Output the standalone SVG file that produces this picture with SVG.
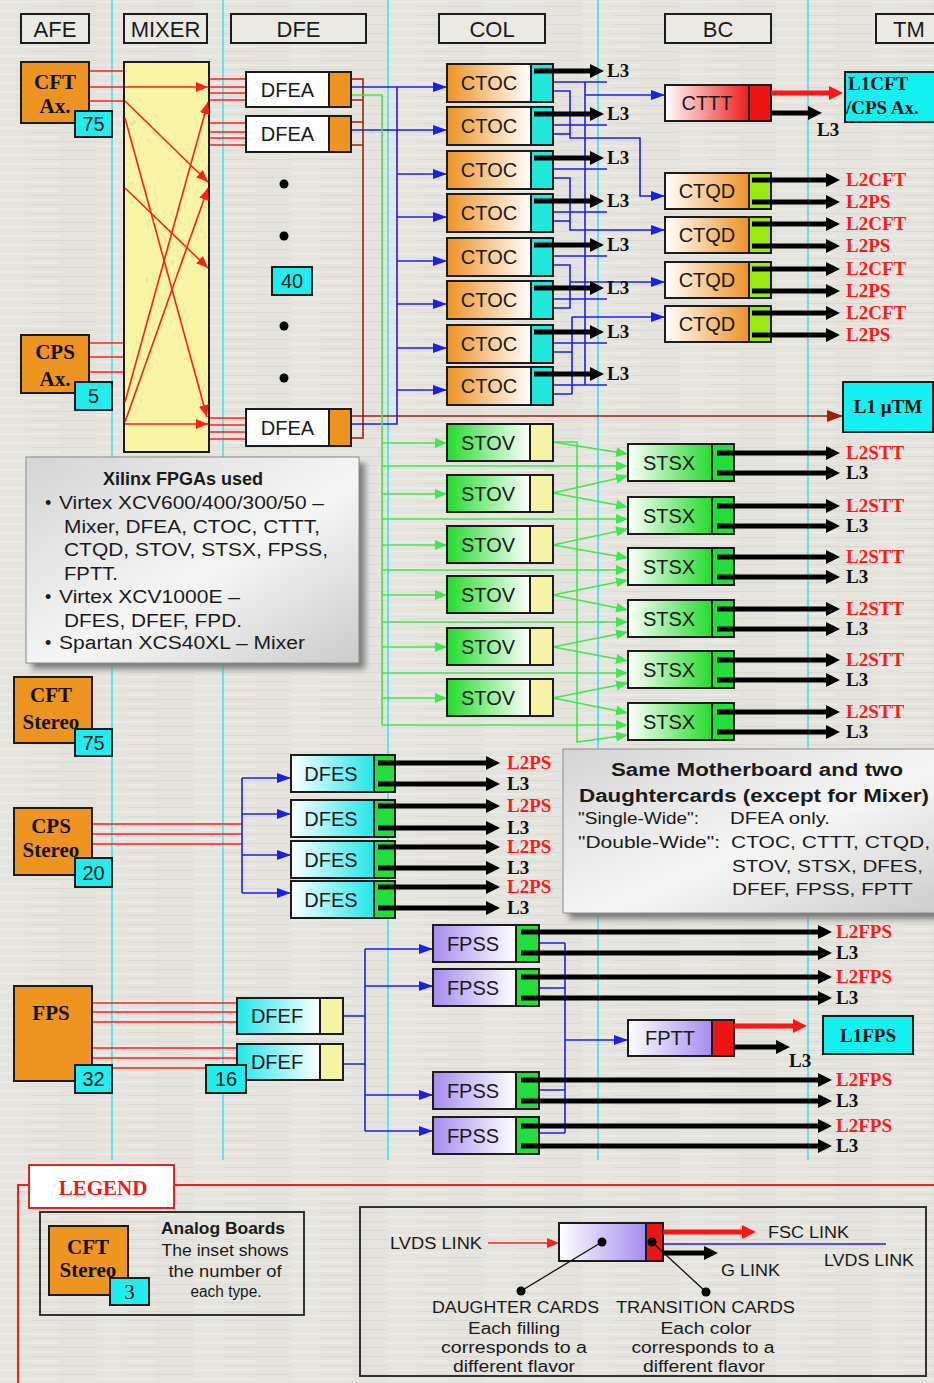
<svg xmlns="http://www.w3.org/2000/svg" width="934" height="1383" viewBox="0 0 934 1383">
<defs>
<pattern id="tex" width="97" height="9" patternUnits="userSpaceOnUse">
<rect width="97" height="9" fill="#e5e3dd"/>
<line x1="0" y1="2" x2="60" y2="2" stroke="#eeece7" stroke-width="1.5"/>
<line x1="30" y1="6.5" x2="97" y2="6.5" stroke="#dbd9d2" stroke-width="1"/>
</pattern>
<linearGradient id="gOrL" x1="0" x2="1"><stop offset="0" stop-color="#ee9224"/><stop offset="1" stop-color="#ffffff"/></linearGradient>
<linearGradient id="gOrR" x1="0" x2="1"><stop offset="0" stop-color="#ffffff"/><stop offset="1" stop-color="#ee9224"/></linearGradient>
<linearGradient id="gRdR" x1="0" x2="1"><stop offset="0" stop-color="#ffffff"/><stop offset="1" stop-color="#ee1c1c"/></linearGradient>
<linearGradient id="gGrL" x1="0" x2="1"><stop offset="0" stop-color="#22dc2a"/><stop offset="1" stop-color="#ffffff"/></linearGradient>
<linearGradient id="gGrR" x1="0" x2="1"><stop offset="0" stop-color="#ffffff"/><stop offset="1" stop-color="#22dc2a"/></linearGradient>
<linearGradient id="gCyR" x1="0" x2="1"><stop offset="0" stop-color="#ffffff"/><stop offset="1" stop-color="#22e6ea"/></linearGradient>
<linearGradient id="gCyL" x1="0" x2="1"><stop offset="0" stop-color="#22e6ea"/><stop offset="1" stop-color="#ffffff"/></linearGradient>
<linearGradient id="gPuL" x1="0" x2="1"><stop offset="0" stop-color="#a58cf0"/><stop offset="1" stop-color="#ffffff"/></linearGradient>
<linearGradient id="gPuR" x1="0" x2="1"><stop offset="0" stop-color="#ffffff"/><stop offset="1" stop-color="#a58cf0"/></linearGradient>
<linearGradient id="gInfo" x1="0" y1="0" x2="1" y2="1"><stop offset="0" stop-color="#d4d4d4"/><stop offset="0.55" stop-color="#f6f6f6"/><stop offset="1" stop-color="#cbcbcb"/></linearGradient>
<filter id="shd" x="-10%" y="-10%" width="130%" height="130%"><feGaussianBlur stdDeviation="3"/></filter>
<marker id="mB" viewBox="0 0 14 10" refX="14" refY="5" markerWidth="14" markerHeight="10" markerUnits="userSpaceOnUse" orient="auto"><path d="M0,0 L14,5 L0,10 z" fill="#1c1ef0"/></marker>
<marker id="mG" viewBox="0 0 12 10" refX="12" refY="5" markerWidth="12" markerHeight="10" markerUnits="userSpaceOnUse" orient="auto"><path d="M0,0 L12,5 L0,10 z" fill="#3ee84e"/></marker>
<marker id="mRs" viewBox="0 0 12 10" refX="12" refY="5" markerWidth="12" markerHeight="10" markerUnits="userSpaceOnUse" orient="auto"><path d="M0,0 L12,5 L0,10 z" fill="#ff1f1f"/></marker>
<marker id="mBr" viewBox="0 0 16 12" refX="16" refY="6" markerWidth="16" markerHeight="12" markerUnits="userSpaceOnUse" orient="auto"><path d="M0,0 L16,6 L0,12 z" fill="#a01e0c"/></marker>
<marker id="mK" viewBox="0 0 14 14" refX="4" refY="7" markerWidth="14" markerHeight="14" markerUnits="userSpaceOnUse" orient="auto"><path d="M0,0 L14,7 L0,14 z" fill="#000"/></marker>
<marker id="mR" viewBox="0 0 14 14" refX="4" refY="7" markerWidth="14" markerHeight="14" markerUnits="userSpaceOnUse" orient="auto"><path d="M0,0 L14,7 L0,14 z" fill="#ff1414"/></marker>
</defs>
<style>
.bx{fill:none;stroke:#1c1c1c;stroke-width:2}
.dv{stroke:#1c1c1c;stroke-width:2}
.hb{fill:#ebe9e4;stroke:#1c1c1c;stroke-width:2}
.lbl{font-family:"Liberation Sans",Arial,sans-serif;font-size:20px;fill:#1a1a1a;text-anchor:middle}
.hdr{font-family:"Liberation Sans",Arial,sans-serif;font-size:22px;fill:#1a1a1a;text-anchor:middle}
.ser{font-family:"Liberation Serif","Times New Roman",serif;font-weight:bold;font-size:21px;fill:#111;text-anchor:middle}
.out{font-family:"Liberation Serif","Times New Roman",serif;font-weight:bold;font-size:19px}
.r{fill:#ff1a1a}
.k{fill:#111}
.txt{font-family:"Liberation Sans",Arial,sans-serif;font-size:18px;fill:#1a1a1a}
.txs{font-family:"Liberation Sans",Arial,sans-serif;font-size:16px;fill:#1a1a1a}
.bl{stroke:#1c1ef0;stroke-width:1.6;fill:none}
.bla{stroke:#1c1ef0;stroke-width:1.6;fill:none;marker-end:url(#mB)}
.gr{stroke:#3ee84e;stroke-width:1.6;fill:none}
.gra{stroke:#3ee84e;stroke-width:1.6;fill:none;marker-end:url(#mG)}
.rd{stroke:#ff1f1f;stroke-width:1.6;fill:none}
.rda{stroke:#ff1f1f;stroke-width:1.6;fill:none;marker-end:url(#mRs)}
.br{stroke:#a01e0c;stroke-width:1.6;fill:none}
.ka{stroke:#000;stroke-width:5;fill:none;marker-end:url(#mK)}
.ra{stroke:#ff1414;stroke-width:5;fill:none;marker-end:url(#mR)}
.cy{stroke:#35e2f0;stroke-width:1.5}
.or{fill:#ee9420}
.cyf{fill:#20eeee}
</style>
<rect width="934" height="1383" fill="url(#tex)"/>

<g id="separators">
<line class="cy" x1="112" y1="0" x2="112" y2="1160"/>
<line class="cy" x1="223" y1="0" x2="223" y2="1160"/>
<line class="cy" x1="388" y1="0" x2="388" y2="1160"/>
<line class="cy" x1="598" y1="0" x2="598" y2="1160"/>
<line class="cy" x1="808" y1="0" x2="808" y2="1160"/>
</g>

<g id="headers">
<g id="hdr-afe"><rect class="hb" x="21" y="14" width="68" height="29"/><text class="hdr" x="55" y="37">AFE</text></g>
<g id="hdr-mixer"><rect class="hb" x="124" y="14" width="83" height="29"/><text class="hdr" x="165.5" y="37">MIXER</text></g>
<g id="hdr-dfe"><rect class="hb" x="231" y="14" width="135" height="29"/><text class="hdr" x="298.5" y="37">DFE</text></g>
<g id="hdr-col"><rect class="hb" x="439" y="14" width="106" height="29"/><text class="hdr" x="492" y="37">COL</text></g>
<g id="hdr-bc"><rect class="hb" x="665" y="14" width="106" height="29"/><text class="hdr" x="718" y="37">BC</text></g>
<g id="hdr-tm"><rect class="hb" x="876" y="14" width="70" height="29"/><text class="hdr" x="909" y="37">TM</text></g>
</g>

<g id="connectors">
<path class="rd" d="M89,71 H125 M89,87 H125 M89,101 H125 M89,343 H125 M89,357 H125 M89,372 H125"/>
<path class="rd" d="M209,79 H246 M209,87 H246 M209,93 H246 M209,100 H246 M209,123 H246 M209,132 H246 M209,138 H246 M209,145 H246 M209,418 H246 M209,425 H246 M209,432 H246 M209,439 H246"/>
<path class="br" d="M351,79 H363 V438 H351 M351,100 H363 M351,122 H363 M351,145 H363"/>
<path class="br" d="M351,416 H843" marker-end="url(#mBr)"/>
<path class="bl" d="M397,87 V424 H351"/>
<path class="bla" d="M351,87 H447"/>
<path class="bla" d="M351,130 H447"/>
<path class="bla" d="M397,174 H447"/>
<path class="bla" d="M397,217 H447"/>
<path class="bla" d="M397,261 H447"/>
<path class="bla" d="M397,304 H447"/>
<path class="bla" d="M397,348 H447"/>
<path class="bla" d="M397,390 H447"/>
<path class="bl" d="M585,82 V385 M553,82 H607 M553,125 H607 M553,169 H607 M553,212 H607 M553,256 H607 M553,299 H607 M553,343 H607 M553,385 H607"/>
<path class="bla" d="M585,95 H665"/>
<path class="bla" d="M553,91 H570 V138 H640 V196 H665"/>
<path class="bl" d="M553,134 H570"/>
<path class="bla" d="M553,178 H570 V230 H665"/>
<path class="bl" d="M553,221 H570"/>
<path class="bl" d="M553,265 H570 V308 H553"/>
<path class="bla" d="M570,282 H665"/>
<path class="bl" d="M553,352 H572 M553,394 H572 M572,317 V394"/>
<path class="bla" d="M572,317 H665"/>
<path class="gr" d="M351,95 H382 V725"/>
<path class="gra" d="M382,443 H447"/>
<path class="gra" d="M382,494 H447"/>
<path class="gra" d="M382,545 H447"/>
<path class="gra" d="M382,595 H447"/>
<path class="gra" d="M382,647 H447"/>
<path class="gra" d="M382,698 H447"/>
<path class="gra" d="M382,466 H628"/>
<path class="gra" d="M382,519 H628"/>
<path class="gra" d="M382,570 H628"/>
<path class="gra" d="M382,622 H628"/>
<path class="gra" d="M382,673 H628"/>
<path class="gra" d="M382,725 H628"/>
<path class="gra" d="M553,442 L628,454"/>
<path class="gra" d="M553,493 L628,507"/>
<path class="gra" d="M553,545 L628,558"/>
<path class="gra" d="M553,595 L628,610"/>
<path class="gra" d="M553,647 L628,661"/>
<path class="gra" d="M553,698 L628,713"/>
<path class="gra" d="M553,493 L628,476"/>
<path class="gra" d="M553,545 L628,529"/>
<path class="gra" d="M553,595 L628,580"/>
<path class="gra" d="M553,647 L628,632"/>
<path class="gra" d="M553,698 L628,683"/>
<path class="gra" d="M553,442 H577 V742 L628,735"/>
<path class="rd" d="M92,824 H242 M92,834 H242 M92,844 H242"/>
<path class="bl" d="M242,778 V893"/>
<path class="bla" d="M242,778 H291"/>
<path class="bla" d="M242,814 H291"/>
<path class="bla" d="M242,855 H291"/>
<path class="bla" d="M242,893 H291"/>
<path class="rd" d="M92,1003 H237 M92,1012 H237 M92,1022 H237 M92,1048 H237 M92,1058 H237 M112,1068 H206"/>
<path class="bl" d="M343,1016 H365 M343,1064 H365 M365,949 V1131"/>
<path class="bla" d="M365,949 H433"/>
<path class="bla" d="M365,986 H433"/>
<path class="bla" d="M365,1095 H433"/>
<path class="bla" d="M365,1131 H433"/>
<path class="bl" d="M539,943 H565 M539,988 H565 M539,1090 H565 M539,1133 H565 M565,943 V1133"/>
<path class="bla" d="M565,1040 H628"/>
</g>

<g id="afe-cft-ax"><rect x="21" y="62" width="68" height="61" class="or"/><rect class="bx" x="21" y="62" width="68" height="61"/><text class="ser" x="55" y="89">CFT</text><text class="ser" x="55" y="113">Ax.</text><rect x="75" y="111" width="37" height="26" class="cyf"/><rect class="bx" x="75" y="111" width="37" height="26"/><text class="lbl" x="93.5" y="131">75</text></g>
<g id="afe-cps-ax"><rect x="21" y="335" width="68" height="58" class="or"/><rect class="bx" x="21" y="335" width="68" height="58"/><text class="ser" x="55" y="359">CPS</text><text class="ser" x="55" y="386">Ax.</text><rect x="75" y="382" width="37" height="28" class="cyf"/><rect class="bx" x="75" y="382" width="37" height="28"/><text class="lbl" x="93.5" y="403">5</text></g>
<g id="afe-cft-stereo"><rect x="14" y="677" width="78" height="66" class="or"/><rect class="bx" x="14" y="677" width="78" height="66"/><text class="ser" x="51" y="702">CFT</text><text class="ser" x="51" y="729">Stereo</text><rect x="75" y="729" width="37" height="27" class="cyf"/><rect class="bx" x="75" y="729" width="37" height="27"/><text class="lbl" x="93.5" y="750">75</text></g>
<g id="afe-cps-stereo"><rect x="14" y="808" width="78" height="67" class="or"/><rect class="bx" x="14" y="808" width="78" height="67"/><text class="ser" x="51" y="833">CPS</text><text class="ser" x="51" y="857">Stereo</text><rect x="75" y="858" width="37" height="29" class="cyf"/><rect class="bx" x="75" y="858" width="37" height="29"/><text class="lbl" x="93.5" y="880">20</text></g>
<g id="afe-fps"><rect x="14" y="986" width="78" height="95" class="or"/><rect class="bx" x="14" y="986" width="78" height="95"/><text class="ser" x="51" y="1020">FPS</text><rect x="75" y="1065" width="37" height="28" class="cyf"/><rect class="bx" x="75" y="1065" width="37" height="28"/><text class="lbl" x="93.5" y="1086">32</text></g>

<g id="mixer"><rect x="124" y="62" width="85" height="390" fill="#f8f4a2"/><rect class="bx" x="124" y="62" width="85" height="390"/></g>
<g id="connectors-mixer">
<path class="rda" d="M125,87 H208"/>
<path class="rda" d="M125,101 L208,182"/>
<path class="rda" d="M125,118 L207,417"/>
<path class="rda" d="M125,188 L208,268"/>
<path class="rda" d="M125,402 L208,102"/>
<path class="rda" d="M125,422 L208,188"/>
<path class="rda" d="M125,424 H208"/>
</g>

<g id="dfea1"><rect x="246" y="72" width="83" height="35" fill="#fff"/><rect x="329" y="72" width="22" height="35" class="or"/><rect class="bx" x="246" y="72" width="105" height="35"/><line class="dv" x1="329" y1="72" x2="329" y2="107"/><text class="lbl" x="287.5" y="97">DFEA</text></g>
<g id="dfea2"><rect x="246" y="116" width="83" height="36" fill="#fff"/><rect x="329" y="116" width="22" height="36" class="or"/><rect class="bx" x="246" y="116" width="105" height="36"/><line class="dv" x1="329" y1="116" x2="329" y2="152"/><text class="lbl" x="287.5" y="141">DFEA</text></g>
<g id="dfea40"><rect x="246" y="409" width="83" height="37" fill="#fff"/><rect x="329" y="409" width="22" height="37" class="or"/><rect class="bx" x="246" y="409" width="105" height="37"/><line class="dv" x1="329" y1="409" x2="329" y2="446"/><text class="lbl" x="287.5" y="435">DFEA</text></g>
<g id="dfea-count"><circle cx="284" cy="184" r="4.5" fill="#000"/><circle cx="284" cy="236" r="4.5" fill="#000"/><circle cx="284" cy="326" r="4.5" fill="#000"/><circle cx="284" cy="378" r="4.5" fill="#000"/><rect x="272" y="267" width="40" height="28" class="cyf"/><rect class="bx" x="272" y="267" width="40" height="28"/><text class="lbl" x="292" y="288">40</text></g>

<g id="ctoc1"><rect x="447" y="64" width="84" height="38" fill="url(#gOrL)"/><rect x="531" y="64" width="22" height="38" fill="#1fe8da"/><rect class="bx" x="447" y="64" width="106" height="38"/><line class="dv" x1="531" y1="64" x2="531" y2="102"/><text class="lbl" x="489" y="90">CTOC</text><text class="out k" x="607" y="77">L3</text></g>
<g id="ctoc2"><rect x="447" y="107" width="84" height="38" fill="url(#gOrL)"/><rect x="531" y="107" width="22" height="38" fill="#1fe8da"/><rect class="bx" x="447" y="107" width="106" height="38"/><line class="dv" x1="531" y1="107" x2="531" y2="145"/><text class="lbl" x="489" y="133">CTOC</text><text class="out k" x="607" y="120">L3</text></g>
<g id="ctoc3"><rect x="447" y="151" width="84" height="38" fill="url(#gOrL)"/><rect x="531" y="151" width="22" height="38" fill="#1fe8da"/><rect class="bx" x="447" y="151" width="106" height="38"/><line class="dv" x1="531" y1="151" x2="531" y2="189"/><text class="lbl" x="489" y="177">CTOC</text><text class="out k" x="607" y="164">L3</text></g>
<g id="ctoc4"><rect x="447" y="194" width="84" height="38" fill="url(#gOrL)"/><rect x="531" y="194" width="22" height="38" fill="#1fe8da"/><rect class="bx" x="447" y="194" width="106" height="38"/><line class="dv" x1="531" y1="194" x2="531" y2="232"/><text class="lbl" x="489" y="220">CTOC</text><text class="out k" x="607" y="207">L3</text></g>
<g id="ctoc5"><rect x="447" y="238" width="84" height="38" fill="url(#gOrL)"/><rect x="531" y="238" width="22" height="38" fill="#1fe8da"/><rect class="bx" x="447" y="238" width="106" height="38"/><line class="dv" x1="531" y1="238" x2="531" y2="276"/><text class="lbl" x="489" y="264">CTOC</text><text class="out k" x="607" y="251">L3</text></g>
<g id="ctoc6"><rect x="447" y="281" width="84" height="38" fill="url(#gOrL)"/><rect x="531" y="281" width="22" height="38" fill="#1fe8da"/><rect class="bx" x="447" y="281" width="106" height="38"/><line class="dv" x1="531" y1="281" x2="531" y2="319"/><text class="lbl" x="489" y="307">CTOC</text><text class="out k" x="607" y="294">L3</text></g>
<g id="ctoc7"><rect x="447" y="325" width="84" height="38" fill="url(#gOrL)"/><rect x="531" y="325" width="22" height="38" fill="#1fe8da"/><rect class="bx" x="447" y="325" width="106" height="38"/><line class="dv" x1="531" y1="325" x2="531" y2="363"/><text class="lbl" x="489" y="351">CTOC</text><text class="out k" x="607" y="338">L3</text></g>
<g id="ctoc8"><rect x="447" y="367" width="84" height="38" fill="url(#gOrL)"/><rect x="531" y="367" width="22" height="38" fill="#1fe8da"/><rect class="bx" x="447" y="367" width="106" height="38"/><line class="dv" x1="531" y1="367" x2="531" y2="405"/><text class="lbl" x="489" y="393">CTOC</text><text class="out k" x="607" y="380">L3</text></g>

<g id="cttt"><rect x="665" y="85" width="84" height="36" fill="url(#gRdR)"/><rect x="749" y="85" width="22" height="36" fill="#ee1414"/><rect class="bx" x="665" y="85" width="106" height="36"/><line class="dv" x1="749" y1="85" x2="749" y2="121"/><text class="lbl" x="707" y="110">CTTT</text><text class="out k" x="817" y="136">L3</text></g>
<g id="ctqd1"><rect x="665" y="173" width="84" height="36" fill="url(#gOrR)"/><rect x="749" y="173" width="22" height="36" fill="#9aea12"/><rect class="bx" x="665" y="173" width="106" height="36"/><line class="dv" x1="749" y1="173" x2="749" y2="209"/><text class="lbl" x="707" y="198">CTQD</text><text class="out r" x="846" y="186">L2CFT</text><text class="out r" x="846" y="208">L2PS</text></g>
<g id="ctqd2"><rect x="665" y="217" width="84" height="36" fill="url(#gOrR)"/><rect x="749" y="217" width="22" height="36" fill="#9aea12"/><rect class="bx" x="665" y="217" width="106" height="36"/><line class="dv" x1="749" y1="217" x2="749" y2="253"/><text class="lbl" x="707" y="242">CTQD</text><text class="out r" x="846" y="230">L2CFT</text><text class="out r" x="846" y="252">L2PS</text></g>
<g id="ctqd3"><rect x="665" y="262" width="84" height="36" fill="url(#gOrR)"/><rect x="749" y="262" width="22" height="36" fill="#9aea12"/><rect class="bx" x="665" y="262" width="106" height="36"/><line class="dv" x1="749" y1="262" x2="749" y2="298"/><text class="lbl" x="707" y="287">CTQD</text><text class="out r" x="846" y="275">L2CFT</text><text class="out r" x="846" y="297">L2PS</text></g>
<g id="ctqd4"><rect x="665" y="306" width="84" height="36" fill="url(#gOrR)"/><rect x="749" y="306" width="22" height="36" fill="#9aea12"/><rect class="bx" x="665" y="306" width="106" height="36"/><line class="dv" x1="749" y1="306" x2="749" y2="342"/><text class="lbl" x="707" y="331">CTQD</text><text class="out r" x="846" y="319">L2CFT</text><text class="out r" x="846" y="341">L2PS</text></g>
<g id="tm-l1cft"><rect x="845" y="72" width="95" height="50" fill="#14f0f0"/><rect class="bx" x="845" y="72" width="95" height="50"/><text class="out k" x="848" y="90">L1CFT</text><text class="out k" x="846" y="114">/CPS Ax.</text></g>
<g id="tm-l1mutm"><rect x="843" y="382" width="90" height="50" fill="#14f0f0"/><rect class="bx" x="843" y="382" width="90" height="50"/><text class="out k" x="888" y="413" text-anchor="middle">L1 µTM</text></g>

<g id="stov1"><rect x="447" y="424" width="83" height="37" fill="url(#gGrL)"/><rect x="530" y="424" width="23" height="37" fill="#f6f4a2"/><rect class="bx" x="447" y="424" width="106" height="37"/><line class="dv" x1="530" y1="424" x2="530" y2="461"/><text class="lbl" x="488" y="450">STOV</text></g>
<g id="stov2"><rect x="447" y="475" width="83" height="37" fill="url(#gGrL)"/><rect x="530" y="475" width="23" height="37" fill="#f6f4a2"/><rect class="bx" x="447" y="475" width="106" height="37"/><line class="dv" x1="530" y1="475" x2="530" y2="512"/><text class="lbl" x="488" y="501">STOV</text></g>
<g id="stov3"><rect x="447" y="526" width="83" height="37" fill="url(#gGrL)"/><rect x="530" y="526" width="23" height="37" fill="#f6f4a2"/><rect class="bx" x="447" y="526" width="106" height="37"/><line class="dv" x1="530" y1="526" x2="530" y2="563"/><text class="lbl" x="488" y="552">STOV</text></g>
<g id="stov4"><rect x="447" y="576" width="83" height="37" fill="url(#gGrL)"/><rect x="530" y="576" width="23" height="37" fill="#f6f4a2"/><rect class="bx" x="447" y="576" width="106" height="37"/><line class="dv" x1="530" y1="576" x2="530" y2="613"/><text class="lbl" x="488" y="602">STOV</text></g>
<g id="stov5"><rect x="447" y="628" width="83" height="37" fill="url(#gGrL)"/><rect x="530" y="628" width="23" height="37" fill="#f6f4a2"/><rect class="bx" x="447" y="628" width="106" height="37"/><line class="dv" x1="530" y1="628" x2="530" y2="665"/><text class="lbl" x="488" y="654">STOV</text></g>
<g id="stov6"><rect x="447" y="679" width="83" height="37" fill="url(#gGrL)"/><rect x="530" y="679" width="23" height="37" fill="#f6f4a2"/><rect class="bx" x="447" y="679" width="106" height="37"/><line class="dv" x1="530" y1="679" x2="530" y2="716"/><text class="lbl" x="488" y="705">STOV</text></g>

<g id="stsx1"><rect x="628" y="444" width="84" height="37" fill="url(#gGrR)"/><rect x="712" y="444" width="22" height="37" fill="#22dd3a"/><rect class="bx" x="628" y="444" width="106" height="37"/><line class="dv" x1="712" y1="444" x2="712" y2="481"/><text class="lbl" x="669" y="470">STSX</text><text class="out r" x="846" y="459">L2STT</text><text class="out k" x="846" y="479">L3</text></g>
<g id="stsx2"><rect x="628" y="497" width="84" height="37" fill="url(#gGrR)"/><rect x="712" y="497" width="22" height="37" fill="#22dd3a"/><rect class="bx" x="628" y="497" width="106" height="37"/><line class="dv" x1="712" y1="497" x2="712" y2="534"/><text class="lbl" x="669" y="523">STSX</text><text class="out r" x="846" y="512">L2STT</text><text class="out k" x="846" y="532">L3</text></g>
<g id="stsx3"><rect x="628" y="548" width="84" height="37" fill="url(#gGrR)"/><rect x="712" y="548" width="22" height="37" fill="#22dd3a"/><rect class="bx" x="628" y="548" width="106" height="37"/><line class="dv" x1="712" y1="548" x2="712" y2="585"/><text class="lbl" x="669" y="574">STSX</text><text class="out r" x="846" y="563">L2STT</text><text class="out k" x="846" y="583">L3</text></g>
<g id="stsx4"><rect x="628" y="600" width="84" height="37" fill="url(#gGrR)"/><rect x="712" y="600" width="22" height="37" fill="#22dd3a"/><rect class="bx" x="628" y="600" width="106" height="37"/><line class="dv" x1="712" y1="600" x2="712" y2="637"/><text class="lbl" x="669" y="626">STSX</text><text class="out r" x="846" y="615">L2STT</text><text class="out k" x="846" y="635">L3</text></g>
<g id="stsx5"><rect x="628" y="651" width="84" height="37" fill="url(#gGrR)"/><rect x="712" y="651" width="22" height="37" fill="#22dd3a"/><rect class="bx" x="628" y="651" width="106" height="37"/><line class="dv" x1="712" y1="651" x2="712" y2="688"/><text class="lbl" x="669" y="677">STSX</text><text class="out r" x="846" y="666">L2STT</text><text class="out k" x="846" y="686">L3</text></g>
<g id="stsx6"><rect x="628" y="703" width="84" height="37" fill="url(#gGrR)"/><rect x="712" y="703" width="22" height="37" fill="#22dd3a"/><rect class="bx" x="628" y="703" width="106" height="37"/><line class="dv" x1="712" y1="703" x2="712" y2="740"/><text class="lbl" x="669" y="729">STSX</text><text class="out r" x="846" y="718">L2STT</text><text class="out k" x="846" y="738">L3</text></g>

<g id="note-xilinx">
<rect x="32" y="463" width="333" height="206" fill="#7a7a7a" filter="url(#shd)"/>
<rect x="26" y="457" width="333" height="206" fill="url(#gInfo)" stroke="#8a8a8a" stroke-width="1"/>
<text class="txt" x="183" y="485" text-anchor="middle" font-weight="bold" font-size="19">Xilinx FPGAs used</text>
<text class="txt" x="45" y="509">•</text><text class="txt" x="59" y="509" textLength="265" lengthAdjust="spacingAndGlyphs">Virtex XCV600/400/300/50 –</text>
<text class="txt" x="64" y="533" textLength="256" lengthAdjust="spacingAndGlyphs">Mixer, DFEA, CTOC, CTTT,</text>
<text class="txt" x="64" y="556" textLength="264" lengthAdjust="spacingAndGlyphs">CTQD, STOV, STSX, FPSS,</text>
<text class="txt" x="64" y="580" textLength="54" lengthAdjust="spacingAndGlyphs">FPTT.</text>
<text class="txt" x="45" y="603">•</text><text class="txt" x="59" y="603" textLength="181" lengthAdjust="spacingAndGlyphs">Virtex XCV1000E –</text>
<text class="txt" x="64" y="627" textLength="178" lengthAdjust="spacingAndGlyphs">DFES, DFEF, FPD.</text>
<text class="txt" x="45" y="649">•</text><text class="txt" x="59" y="649" textLength="246" lengthAdjust="spacingAndGlyphs">Spartan XCS40XL – Mixer</text>
</g>

<g id="dfes1"><rect x="291" y="755" width="83" height="37" fill="url(#gCyR)"/><rect x="374" y="755" width="21" height="37" fill="#22dd3a"/><rect class="bx" x="291" y="755" width="104" height="37"/><line class="dv" x1="374" y1="755" x2="374" y2="792"/><text class="lbl" x="331" y="781">DFES</text><text class="out r" x="507" y="769">L2PS</text><text class="out k" x="507" y="790">L3</text></g>
<g id="dfes2"><rect x="291" y="800" width="83" height="37" fill="url(#gCyR)"/><rect x="374" y="800" width="21" height="37" fill="#22dd3a"/><rect class="bx" x="291" y="800" width="104" height="37"/><line class="dv" x1="374" y1="800" x2="374" y2="837"/><text class="lbl" x="331" y="826">DFES</text><text class="out r" x="507" y="812">L2PS</text><text class="out k" x="507" y="834">L3</text></g>
<g id="dfes3"><rect x="291" y="841" width="83" height="37" fill="url(#gCyR)"/><rect x="374" y="841" width="21" height="37" fill="#22dd3a"/><rect class="bx" x="291" y="841" width="104" height="37"/><line class="dv" x1="374" y1="841" x2="374" y2="878"/><text class="lbl" x="331" y="867">DFES</text><text class="out r" x="507" y="853">L2PS</text><text class="out k" x="507" y="874">L3</text></g>
<g id="dfes4"><rect x="291" y="881" width="83" height="37" fill="url(#gCyR)"/><rect x="374" y="881" width="21" height="37" fill="#22dd3a"/><rect class="bx" x="291" y="881" width="104" height="37"/><line class="dv" x1="374" y1="881" x2="374" y2="918"/><text class="lbl" x="331" y="907">DFES</text><text class="out r" x="507" y="893">L2PS</text><text class="out k" x="507" y="914">L3</text></g>

<g id="note-motherboard">
<rect x="569" y="755" width="380" height="164" fill="#7a7a7a" filter="url(#shd)"/>
<rect x="563" y="749" width="380" height="164" fill="url(#gInfo)" stroke="#8a8a8a" stroke-width="1"/>
<text class="txt" x="611" y="776" font-weight="bold" textLength="292" lengthAdjust="spacingAndGlyphs">Same Motherboard and two</text>
<text class="txt" x="579" y="802" font-weight="bold" textLength="350" lengthAdjust="spacingAndGlyphs">Daughtercards (except for Mixer)</text>
<text class="txs" x="578" y="824" textLength="121" lengthAdjust="spacingAndGlyphs">"Single-Wide":</text>
<text class="txs" x="730" y="824" textLength="100" lengthAdjust="spacingAndGlyphs">DFEA only.</text>
<text class="txs" x="578" y="848" textLength="142" lengthAdjust="spacingAndGlyphs">"Double-Wide":</text>
<text class="txs" x="731" y="848" textLength="199" lengthAdjust="spacingAndGlyphs">CTOC, CTTT, CTQD,</text>
<text class="txs" x="732" y="872" textLength="191" lengthAdjust="spacingAndGlyphs">STOV, STSX, DFES,</text>
<text class="txs" x="732" y="895" textLength="181" lengthAdjust="spacingAndGlyphs">DFEF, FPSS, FPTT</text>
</g>

<g id="dfef1"><rect x="237" y="998" width="83" height="36" fill="url(#gCyL)"/><rect x="320" y="998" width="23" height="36" fill="#f6f4a2"/><rect class="bx" x="237" y="998" width="106" height="36"/><line class="dv" x1="320" y1="998" x2="320" y2="1034"/><text class="lbl" x="277" y="1023">DFEF</text></g>
<g id="dfef2"><rect x="237" y="1044" width="83" height="36" fill="url(#gCyL)"/><rect x="320" y="1044" width="23" height="36" fill="#f6f4a2"/><rect class="bx" x="237" y="1044" width="106" height="36"/><line class="dv" x1="320" y1="1044" x2="320" y2="1080"/><text class="lbl" x="277" y="1069">DFEF</text><rect x="206" y="1065" width="40" height="28" class="cyf"/><rect class="bx" x="206" y="1065" width="40" height="28"/><text class="lbl" x="226" y="1086">16</text></g>

<g id="fpss1"><rect x="433" y="925" width="83" height="37" fill="url(#gPuL)"/><rect x="516" y="925" width="23" height="37" fill="#22dd3a"/><rect class="bx" x="433" y="925" width="106" height="37"/><line class="dv" x1="516" y1="925" x2="516" y2="962"/><text class="lbl" x="473" y="951">FPSS</text><text class="out r" x="836" y="938">L2FPS</text><text class="out k" x="836" y="959">L3</text></g>
<g id="fpss2"><rect x="433" y="969" width="83" height="37" fill="url(#gPuL)"/><rect x="516" y="969" width="23" height="37" fill="#22dd3a"/><rect class="bx" x="433" y="969" width="106" height="37"/><line class="dv" x1="516" y1="969" x2="516" y2="1006"/><text class="lbl" x="473" y="995">FPSS</text><text class="out r" x="836" y="983">L2FPS</text><text class="out k" x="836" y="1004">L3</text></g>
<g id="fpss3"><rect x="433" y="1072" width="83" height="37" fill="url(#gPuL)"/><rect x="516" y="1072" width="23" height="37" fill="#22dd3a"/><rect class="bx" x="433" y="1072" width="106" height="37"/><line class="dv" x1="516" y1="1072" x2="516" y2="1109"/><text class="lbl" x="473" y="1098">FPSS</text><text class="out r" x="836" y="1086">L2FPS</text><text class="out k" x="836" y="1107">L3</text></g>
<g id="fpss4"><rect x="433" y="1117" width="83" height="37" fill="url(#gPuL)"/><rect x="516" y="1117" width="23" height="37" fill="#22dd3a"/><rect class="bx" x="433" y="1117" width="106" height="37"/><line class="dv" x1="516" y1="1117" x2="516" y2="1154"/><text class="lbl" x="473" y="1143">FPSS</text><text class="out r" x="836" y="1132">L2FPS</text><text class="out k" x="836" y="1152">L3</text></g>
<g id="fptt"><rect x="628" y="1020" width="84" height="36" fill="url(#gPuR)"/><rect x="712" y="1020" width="22" height="36" fill="#ee1414"/><rect class="bx" x="628" y="1020" width="106" height="36"/><line class="dv" x1="712" y1="1020" x2="712" y2="1056"/><text class="lbl" x="670" y="1045">FPTT</text><text class="out k" x="789" y="1067">L3</text></g>
<g id="tm-l1fps"><rect x="823" y="1016" width="90" height="38" fill="#14f0f0"/><rect class="bx" x="823" y="1016" width="90" height="38"/><text class="out k" x="868" y="1042" text-anchor="middle">L1FPS</text></g>

<g id="connectors-outputs">
<path class="ka" d="M534,71 H594"/><path class="ka" d="M534,114 H594"/><path class="ka" d="M534,158 H594"/><path class="ka" d="M534,201 H594"/><path class="ka" d="M534,245 H594"/><path class="ka" d="M534,288 H594"/><path class="ka" d="M534,332 H594"/><path class="ka" d="M534,374 H594"/>
<path class="ra" d="M771,93 H833"/><path class="ka" d="M771,113 H812"/>
<path class="ka" d="M752,180 H830"/><path class="ka" d="M752,202 H830"/><path class="ka" d="M752,224 H830"/><path class="ka" d="M752,246 H830"/><path class="ka" d="M752,269 H830"/><path class="ka" d="M752,291 H830"/><path class="ka" d="M752,313 H830"/><path class="ka" d="M752,335 H830"/>
<path class="ka" d="M717,453 H830"/><path class="ka" d="M717,473 H830"/><path class="ka" d="M717,506 H830"/><path class="ka" d="M717,526 H830"/><path class="ka" d="M717,557 H830"/><path class="ka" d="M717,577 H830"/><path class="ka" d="M717,609 H830"/><path class="ka" d="M717,629 H830"/><path class="ka" d="M717,660 H830"/><path class="ka" d="M717,680 H830"/><path class="ka" d="M717,712 H830"/><path class="ka" d="M717,732 H830"/>
<path class="ka" d="M378,763 H490"/><path class="ka" d="M378,784 H490"/><path class="ka" d="M378,806 H490"/><path class="ka" d="M378,828 H490"/><path class="ka" d="M378,847 H490"/><path class="ka" d="M378,868 H490"/><path class="ka" d="M378,887 H490"/><path class="ka" d="M378,908 H490"/>
<path class="ka" d="M521,932 H822"/><path class="ka" d="M521,953 H822"/><path class="ka" d="M521,977 H822"/><path class="ka" d="M521,998 H822"/><path class="ka" d="M521,1080 H822"/><path class="ka" d="M521,1101 H822"/><path class="ka" d="M521,1126 H822"/><path class="ka" d="M521,1146 H822"/>
<path class="ra" d="M734,1026 H797"/><path class="ka" d="M734,1047 H780"/>
</g>

<g id="legend">
<path d="M174,1185 H934 M29,1185 H18 V1383" stroke="#ee2020" stroke-width="2" fill="none"/>
<rect x="29" y="1165" width="145" height="43" fill="#ffffff" stroke="#ee2020" stroke-width="2"/>
<text class="ser" x="103" y="1195" style="fill:#ee1a1a">LEGEND</text>
<g id="legend-analog">
<rect x="40" y="1212" width="264" height="103" fill="none" stroke="#333" stroke-width="2"/>
<rect x="49" y="1226" width="79" height="69" class="or"/><rect class="bx" x="49" y="1226" width="79" height="69"/>
<text class="ser" x="88" y="1254">CFT</text><text class="ser" x="88" y="1277">Stereo</text>
<rect x="110" y="1278" width="39" height="27" class="cyf"/><rect class="bx" x="110" y="1278" width="39" height="27"/><text class="ser" x="129.5" y="1299" style="font-weight:normal">3</text>
<text class="txs" x="223" y="1234" text-anchor="middle" font-weight="bold" textLength="124" lengthAdjust="spacingAndGlyphs">Analog Boards</text>
<text class="txs" x="225" y="1256" text-anchor="middle" textLength="127" lengthAdjust="spacingAndGlyphs">The inset shows</text>
<text class="txs" x="225" y="1277" text-anchor="middle" textLength="113" lengthAdjust="spacingAndGlyphs">the number of</text>
<text class="txs" x="226" y="1297" text-anchor="middle" textLength="71" lengthAdjust="spacingAndGlyphs">each type.</text>
</g>
<g id="legend-cards">
<rect x="360" y="1207" width="566" height="169" fill="none" stroke="#333" stroke-width="2"/>
<path class="rda" d="M488,1243 H559"/>
<path d="M663,1244 H886" stroke="#1c1ef0" stroke-width="1.6"/>
<rect x="559" y="1223" width="87" height="38" fill="url(#gPuR)"/><rect x="646" y="1223" width="17" height="38" fill="#ee1414"/><rect class="bx" x="559" y="1223" width="104" height="38"/><line class="dv" x1="646" y1="1223" x2="646" y2="1261"/>
<path class="ra" d="M663,1232 H746"/>
<path class="ka" d="M663,1253 H708"/>
<path d="M602,1242 L521,1291 M652,1242 L706,1292" stroke="#111" stroke-width="1.3"/>
<circle cx="602" cy="1242" r="4.5" fill="#000"/><circle cx="652" cy="1242" r="4.5" fill="#000"/><circle cx="521" cy="1291" r="4.5" fill="#000"/><circle cx="706" cy="1292" r="4.5" fill="#000"/>
<text class="txs" x="390" y="1249" textLength="92" lengthAdjust="spacingAndGlyphs">LVDS LINK</text>
<text class="txs" x="768" y="1238" textLength="81" lengthAdjust="spacingAndGlyphs">FSC LINK</text>
<text class="txs" x="824" y="1266" textLength="90" lengthAdjust="spacingAndGlyphs">LVDS LINK</text>
<text class="txs" x="721" y="1276" textLength="59" lengthAdjust="spacingAndGlyphs">G LINK</text>
<text class="txs" x="432" y="1313" textLength="167" lengthAdjust="spacingAndGlyphs">DAUGHTER CARDS</text>
<text class="txs" x="514" y="1334" text-anchor="middle" textLength="92" lengthAdjust="spacingAndGlyphs">Each filling</text>
<text class="txs" x="514" y="1353" text-anchor="middle" textLength="146" lengthAdjust="spacingAndGlyphs">corresponds to a</text>
<text class="txs" x="514" y="1372" text-anchor="middle" textLength="122" lengthAdjust="spacingAndGlyphs">different flavor</text>
<text class="txs" x="616" y="1313" textLength="179" lengthAdjust="spacingAndGlyphs">TRANSITION CARDS</text>
<text class="txs" x="706" y="1334" text-anchor="middle" textLength="91" lengthAdjust="spacingAndGlyphs">Each color</text>
<text class="txs" x="703" y="1353" text-anchor="middle" textLength="143" lengthAdjust="spacingAndGlyphs">corresponds to a</text>
<text class="txs" x="704" y="1372" text-anchor="middle" textLength="122" lengthAdjust="spacingAndGlyphs">different flavor</text>
</g>
</g>
</svg>
